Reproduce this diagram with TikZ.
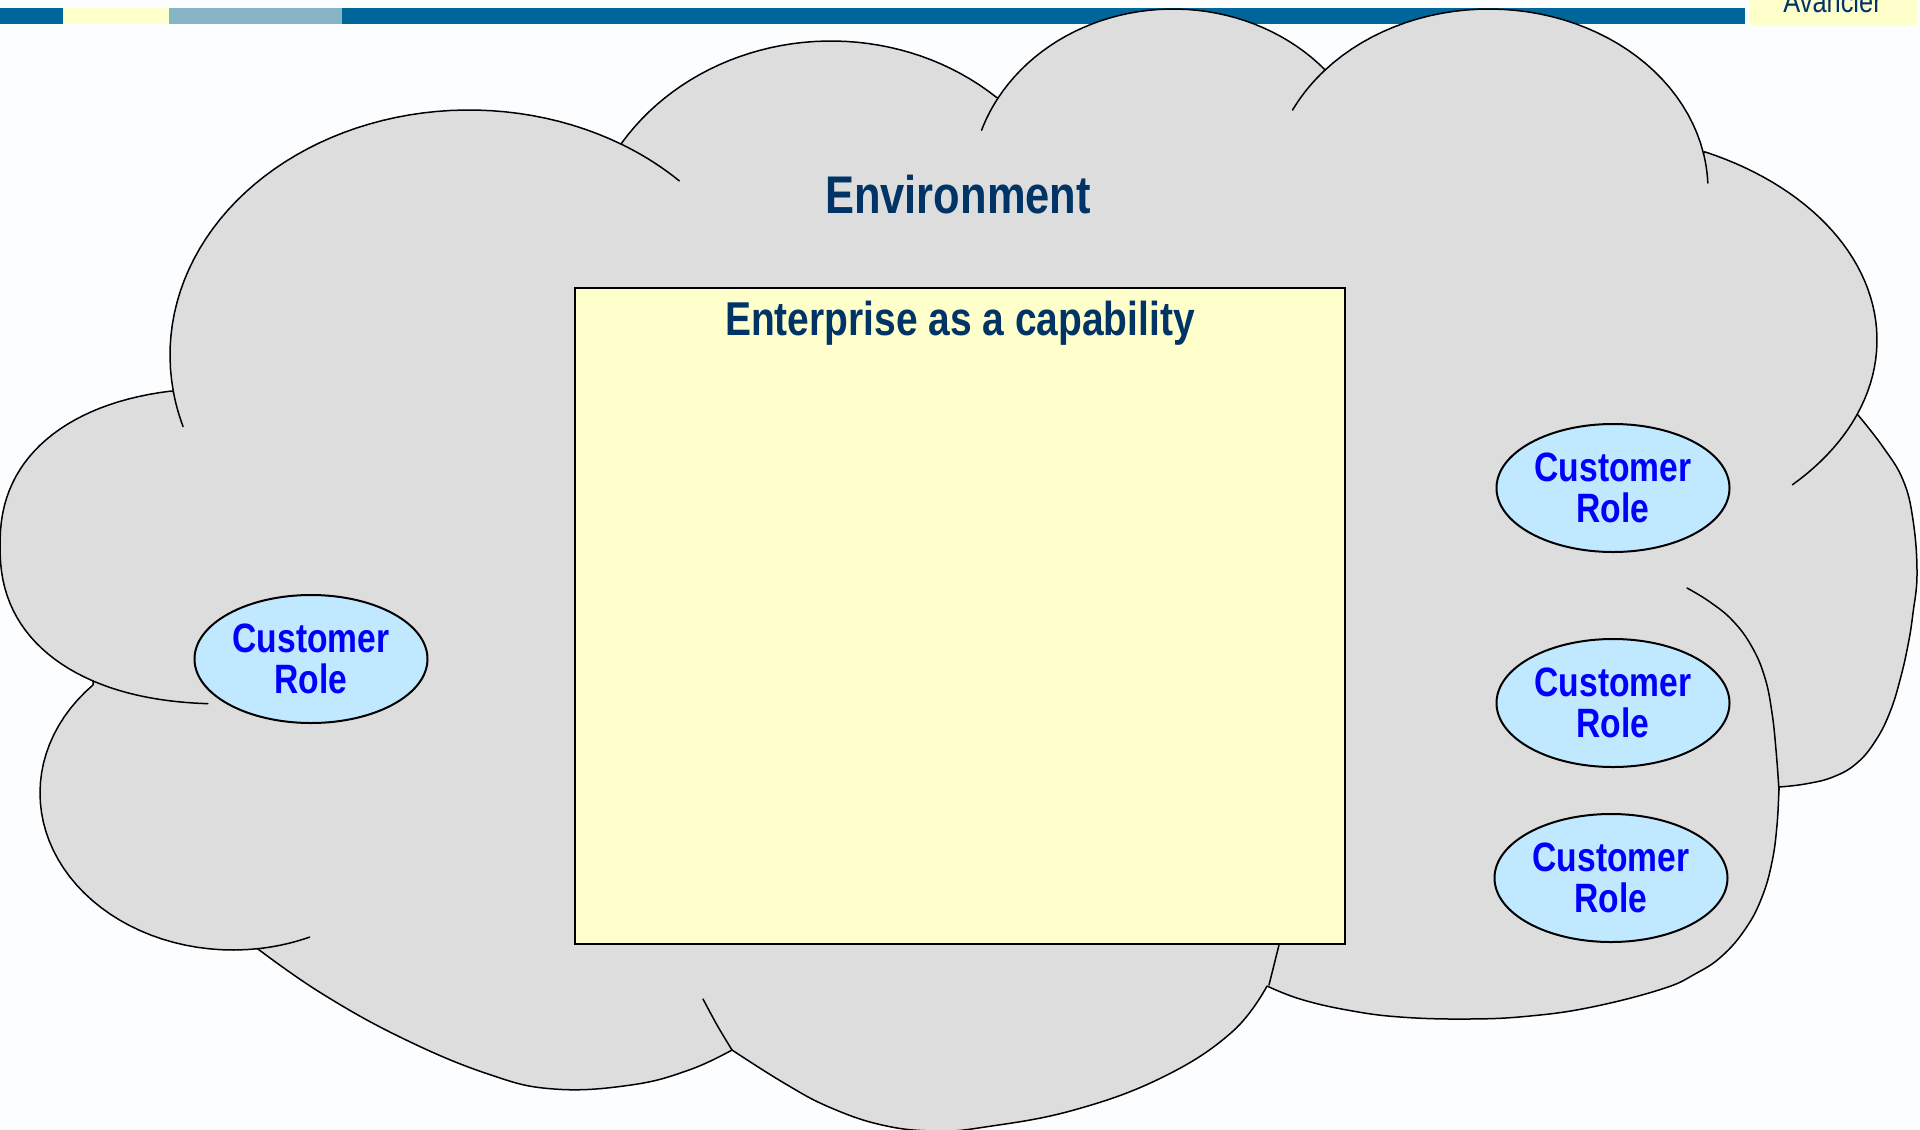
\documentclass[tikz,border=0pt]{standalone}
\usepackage{fontspec}
\newfontfamily\narrowfont[FakeStretch=0.82]{Liberation Sans}
\usetikzlibrary{shapes.geometric}
\definecolor{barblue}{HTML}{006699}
\definecolor{paleyellow}{HTML}{FFFFCC}
\definecolor{steel}{HTML}{87B5C6}
\definecolor{cloudgray}{HTML}{DDDDDD}
\definecolor{navy}{HTML}{003366}
\definecolor{rolefill}{HTML}{C0E8FF}
\definecolor{roleblue}{HTML}{0000FF}
\definecolor{bgwhite}{HTML}{FCFDFF}
\begin{document}
\begin{tikzpicture}[x=1pt,y=-1pt,
  cloudline/.style={line width=1.5pt, line join=round, draw=black, fill=cloudgray},
  seamline/.style={line width=1.5pt, line cap=round, draw=black},
  rolenode/.style={ellipse, draw=black, line width=2pt, fill=rolefill,
    minimum width=233pt, minimum height=128pt, inner sep=0pt, align=center,
    text=roleblue, font=\narrowfont\bfseries\fontsize{41}{41}\selectfont},
  titletext/.style={anchor=base, text=navy, inner sep=0pt},
]
\useasboundingbox (0,0) rectangle (1920,1130);
\clip (0,0) rectangle (1920,1130);
\fill[bgwhite] (0,0) rectangle (1920,1130);
% top bar
\fill[barblue] (0,8) rectangle (63,24);
\fill[paleyellow] (63,8) rectangle (169,24);
\fill[steel] (169,8) rectangle (342,24);
\fill[barblue] (342,8) rectangle (1745,24);
\fill[paleyellow] (1750,-2) rectangle (1917,25);
\node[anchor=base, text=navy, inner sep=0pt, font=\narrowfont\fontsize{31}{31}\selectfont] (brand) at (1832.5,12) {Avancier};
% cloud
\path[cloudline]
  plot[domain=171.4:300.7, samples=50] ({469+299*cos(\x)},{355+245*sin(\x)})
  -- plot[domain=213.2:311.3, samples=40] ({831+250*cos(\x)},{266+225*sin(\x)})
  -- plot[domain=210:318.9, samples=40] ({1173+202*cos(\x)},{187+178*sin(\x)})
  -- plot[domain=221.5:348.3, samples=40] ({1489+219*cos(\x)},{190+181*sin(\x)})
  -- plot[domain=295.2:381, samples=40] ({1577+300*cos(\x)},{340+208*sin(\x)})
  -- plot[smooth, tension=0.7] coordinates {(1858,415) (1883,447) (1903,480) (1913,520) (1917,573) (1913,613) (1908,645) (1900,680) (1890,712) (1876,740) (1857,763) (1833,777) (1805,784) (1779,787)}
  -- plot[smooth, tension=0.7] coordinates {(1779,787) (1777,825) (1772,862) (1762,897) (1746,928) (1722,956) (1695,974) (1662,989) (1592,1007) (1530,1016) (1469,1019) (1400,1017) (1347,1010) (1300,999) (1267,986)}
  -- plot[smooth, tension=0.7] coordinates {(1267,986) (1232,1032) (1163,1077) (1074,1110) (985,1127) (935,1131) (882,1125) (829,1107) (784,1083) (732,1050)}
  -- plot[smooth, tension=0.7] coordinates {(732,1050) (689,1070) (631,1085) (554,1089) (488,1074) (402,1038) (321,993) (258,949)}
  -- plot[domain=82.6:223.5, samples=40] ({233+193*cos(\x)},{793+157*sin(\x)})
  -- plot[domain=123.4:257.9, samples=50] ({230+230*cos(\x)*pow(abs(cos(\x))+0.0001,-0.13)},{546+158*sin(\x)*pow(abs(sin(\x))+0.0001,-0.13)})
  -- cycle;
% seams
\draw[seamline] plot[domain=171.4:163, samples=10] ({469+299*cos(\x)},{355+245*sin(\x)});
\draw[seamline] plot[domain=300.7:314.7, samples=10] ({469+299*cos(\x)},{355+245*sin(\x)});
\draw[seamline] plot[domain=210:198.6, samples=10] ({1173+202*cos(\x)},{187+178*sin(\x)});
\draw[seamline] plot[domain=221.5:206.2, samples=10] ({1489+219*cos(\x)},{190+181*sin(\x)});
\draw[seamline] plot[domain=348.3:357.8, samples=10] ({1489+219*cos(\x)},{190+181*sin(\x)});
\draw[seamline] plot[domain=21:44.1, samples=12] ({1577+300*cos(\x)},{340+208*sin(\x)});
\draw[seamline] plot[smooth, tension=0.7] coordinates {(1779,790) (1776,750) (1772,713) (1765,678) (1752,647) (1733,621) (1710,602) (1687,588)};
\draw[seamline] plot[smooth] coordinates {(1269,985) (1274,965) (1279,945)};
\draw[seamline] plot[smooth] coordinates {(732,1050) (717,1025) (703,999)};
\draw[seamline] plot[domain=82.6:66.6, samples=10] ({233+193*cos(\x)},{793+157*sin(\x)});
\draw[seamline] plot[domain=123.4:93.9, samples=20] ({230+230*cos(\x)*pow(abs(cos(\x))+0.0001,-0.13)},{546+158*sin(\x)*pow(abs(sin(\x))+0.0001,-0.13)});
% titles and enterprise box
\node[titletext, font=\narrowfont\bfseries\fontsize{53}{53}\selectfont] (env) at (958,213) {Environment};
\node[draw=black, line width=1.8pt, fill=paleyellow, minimum width=770pt, minimum height=656pt, inner sep=0pt] (capbox) at (960,616) {};
\node[titletext, font=\narrowfont\bfseries\fontsize{47.5}{47.5}\selectfont] (captitle) at (960,335) {Enterprise as a capability};
% customer roles
\node[rolenode] (r1) at (1613,488) {Customer\\Role};
\node[rolenode] (r2) at (1613,703) {Customer\\Role};
\node[rolenode] (r3) at (1611,878) {Customer\\Role};
\node[rolenode] (r4) at (311,659) {Customer\\Role};
\end{tikzpicture}
\end{document}
